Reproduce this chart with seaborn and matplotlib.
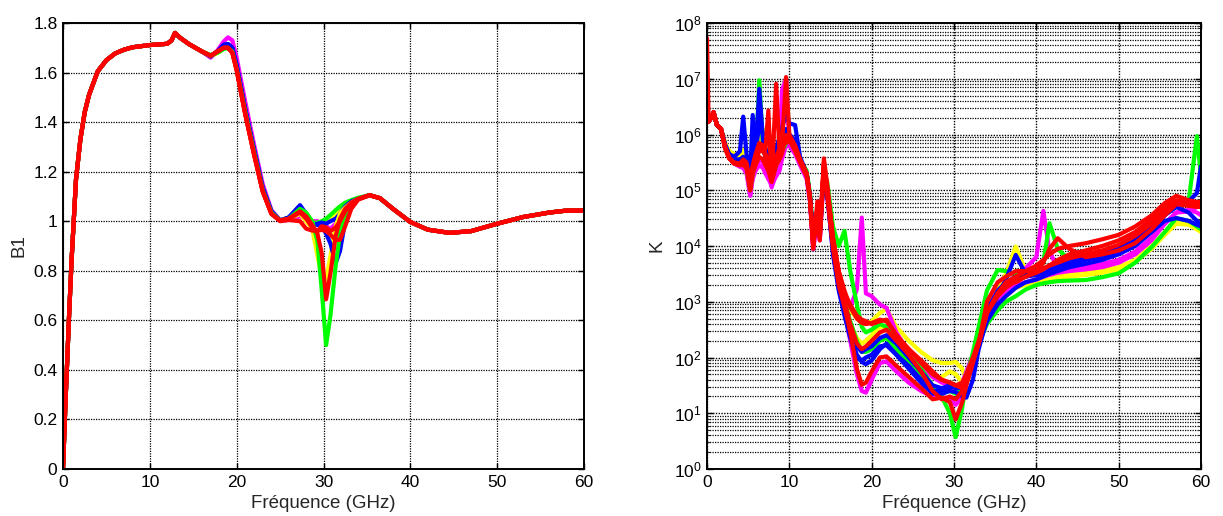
import numpy as np
import pandas as pd
import matplotlib
matplotlib.use("Agg")
import matplotlib.pyplot as plt
import seaborn as sns
from matplotlib.ticker import LogLocator, NullFormatter, FuncFormatter, MultipleLocator

# ---------------- data : left panel (B1) ----------------
freq_b1 = [0.0, 0.3, 0.7, 1.0, 1.5, 2.0, 2.5, 3.0, 4.0, 5.0,
           6.0, 7.0, 8.0, 10.0, 12.0, 12.5, 12.9, 13.5, 14.5, 16.0,
           17.0, 17.8, 18.5, 19.0, 19.5, 20.0, 21.0, 22.0, 23.0, 24.0,
           25.0, 26.0, 27.3, 28.0, 28.7, 29.3, 29.8, 30.3, 30.8, 31.4,
           31.9, 32.5, 33.2, 34.0,
           35.3, 36.5, 38.0, 40.0, 42.0, 44.5, 47.0, 50.0, 53.0, 56.0, 58.0, 60.0]

b1_start = [0.0, 0.28, 0.62, 0.85, 1.17, 1.33, 1.44, 1.51, 1.605, 1.65,
            1.677, 1.692, 1.702, 1.711, 1.716, 1.73, 1.76, 1.74, 1.715, 1.685]
b1_end = [1.105, 1.093, 1.05, 0.997, 0.966, 0.953, 0.96, 0.99, 1.017, 1.035, 1.043, 1.043]

b1_yellow_flat = [1.665, 1.68, 1.70, 1.705, 1.69, 1.62, 1.44, 1.28, 1.13, 1.035, 1.003, 1.01, 1.04, 1.02,
                  0.99, 0.99, 0.995, 1.0, 1.01, 1.03, 1.05, 1.07, 1.08, 1.09]
b1_magenta = [1.66, 1.69, 1.725, 1.742, 1.73, 1.66, 1.48, 1.31, 1.15, 1.045, 1.003, 1.005, 1.02, 1.01,
              1.0, 1.0, 0.99, 0.98, 0.97, 0.99, 1.02, 1.05, 1.075, 1.09]
b1_green_flat = [1.67, 1.68, 1.695, 1.70, 1.685, 1.615, 1.44, 1.28, 1.125, 1.035, 1.003, 1.015, 1.06, 1.01,
                 0.99, 0.995, 1.0, 1.01, 1.025, 1.045, 1.06, 1.075, 1.085, 1.095]
b1_blue_flat = [1.665, 1.685, 1.712, 1.715, 1.70, 1.63, 1.45, 1.29, 1.135, 1.04, 1.003, 1.015, 1.06, 1.02,
                0.985, 0.99, 0.995, 0.99, 1.0, 1.01, 1.03, 1.06, 1.08, 1.09]
b1_yellow_dip = [1.665, 1.68, 1.70, 1.705, 1.69, 1.62, 1.44, 1.28, 1.13, 1.035, 1.003, 1.01, 1.03, 1.0,
                 0.97, 0.86, 0.78, 0.765, 0.86, 0.98, 1.03, 1.055, 1.075, 1.09]
b1_blue_dip = [1.665, 1.685, 1.712, 1.715, 1.70, 1.63, 1.45, 1.29, 1.135, 1.04, 1.003, 1.015, 1.065, 1.03,
               0.99, 0.985, 0.98, 0.95, 0.91, 0.83, 0.88, 1.0, 1.06, 1.09]
b1_green_deep = [1.67, 1.68, 1.695, 1.70, 1.685, 1.615, 1.44, 1.28, 1.125, 1.035, 1.003, 1.01, 1.05, 1.035,
                 1.0, 0.92, 0.72, 0.50, 0.62, 0.82, 0.95, 1.03, 1.07, 1.09]
b1_red_mid = [1.668, 1.685, 1.70, 1.70, 1.68, 1.61, 1.43, 1.27, 1.12, 1.03, 1.003, 1.01, 1.035, 1.01,
              0.975, 0.96, 0.98, 0.975, 0.96, 0.975, 1.0, 1.04, 1.07, 1.09]
b1_red_low = [1.668, 1.685, 1.70, 1.70, 1.68, 1.61, 1.43, 1.27, 1.12, 1.03, 1.0, 1.005, 1.0, 0.97,
              0.962, 0.962, 0.965, 0.96, 0.945, 0.925, 0.925, 0.98, 1.05, 1.087]
b1_red_deep = [1.668, 1.685, 1.70, 1.70, 1.68, 1.61, 1.43, 1.27, 1.12, 1.03, 1.003, 1.01, 1.04, 1.02,
               0.985, 0.95, 0.87, 0.685, 0.79, 0.94, 1.01, 1.05, 1.075, 1.09]

b1_mid = {
    "yellow_flat": b1_yellow_flat, "magenta": b1_magenta, "green_flat": b1_green_flat,
    "blue_flat": b1_blue_flat, "yellow_dip": b1_yellow_dip, "blue_dip": b1_blue_dip,
    "green_deep": b1_green_deep, "red_mid": b1_red_mid, "red_low": b1_red_low, "red_deep": b1_red_deep,
}
b1_colors = {
    "yellow_flat": "y", "magenta": "m", "green_flat": "g", "blue_flat": "b", "yellow_dip": "y",
    "blue_dip": "b", "green_deep": "g", "red_mid": "r", "red_low": "r", "red_deep": "r",
}

# ---------------- data : right panel (K, stored as log10 K) ----------------
freq_k = [0.0, 0.2, 0.5, 0.8, 1.2, 1.7, 2.2, 2.7, 3.3, 4.0,
          4.4, 4.8, 5.25, 5.55, 5.9, 6.35, 6.8, 7.1, 7.45, 7.85,
          8.4, 8.8, 9.1, 9.6, 10.0, 10.7, 11.3, 12.1, 12.5, 12.9,
          13.4, 13.7, 14.2, 14.6, 15.3, 16.0, 16.7, 17.4, 18.2, 18.8,
          19.3, 20.0, 21.0, 21.8, 23.0, 24.5, 26.0, 27.4, 28.5, 29.5,
          30.2, 31.0, 31.5, 32.3, 33.0, 34.0, 35.3, 36.3, 37.5, 38.7,
          40.0, 40.85, 41.6, 42.6, 44.0, 46.0, 48.0, 50.0, 52.0, 54.0,
          55.6, 57.0, 58.5, 59.5, 60.0]

logk_yellow_b = [6.25, 6.23, 6.30, 6.40, 6.17, 6.10, 5.82, 5.65, 5.60, 5.62,
                 5.72, 5.55, 5.15, 5.55, 5.75, 5.90, 6.10, 5.80, 5.60, 5.30,
                 5.50, 5.65, 5.75, 5.95, 5.95, 5.80, 5.55, 5.30, 4.90, 4.10,
                 4.60, 4.25, 5.35, 5.00, 4.05, 3.40, 2.95, 2.60, 2.35, 2.25,
                 2.30, 2.40, 2.55, 2.55, 2.35, 2.10, 1.85, 1.65, 1.65, 1.75,
                 1.70, 1.55, 1.55, 1.85, 2.20, 2.70, 2.95, 3.10, 3.25, 3.30,
                 3.35, 3.38, 3.40, 3.43, 3.45, 3.48, 3.52, 3.58, 3.72, 3.95,
                 4.20, 4.40, 4.38, 4.30, 4.28]
logk_yellow_a = [6.25, 6.23, 6.30, 6.40, 6.17, 6.10, 5.85, 5.70, 5.65, 5.62,
                 5.70, 5.60, 5.25, 5.60, 5.80, 6.10, 6.00, 5.75, 5.55, 5.30,
                 5.60, 5.75, 5.80, 5.90, 5.90, 5.80, 5.55, 5.30, 4.90, 4.10,
                 4.60, 4.25, 5.30, 4.95, 4.00, 3.40, 3.10, 2.85, 2.70, 2.62,
                 2.60, 2.65, 2.80, 2.87, 2.55, 2.30, 2.10, 1.95, 1.90, 1.90,
                 1.92, 1.80, 1.60, 1.90, 2.25, 2.75, 3.20, 3.50, 3.99, 3.55,
                 3.45, 3.45, 3.48, 3.50, 3.52, 3.55, 3.58, 3.62, 3.75, 4.00,
                 4.25, 4.45, 4.40, 4.30, 4.25]
logk_magenta_b = [6.25, 6.23, 6.30, 6.40, 6.17, 6.10, 5.78, 5.58, 5.48, 5.42,
                  5.40, 5.30, 4.90, 5.20, 5.35, 5.45, 5.40, 5.30, 5.20, 5.10,
                  5.25, 5.35, 5.55, 5.80, 5.80, 5.65, 5.45, 5.20, 4.80, 3.94,
                  4.50, 4.10, 5.30, 4.90, 3.90, 3.25, 2.80, 2.30, 1.70, 1.40,
                  1.37, 1.60, 1.90, 1.93, 1.75, 1.55, 1.40, 1.30, 1.30, 1.25,
                  1.15, 1.30, 1.60, 2.00, 2.30, 2.80, 3.05, 3.20, 3.30, 3.35,
                  3.40, 3.45, 3.48, 3.52, 3.55, 3.58, 3.62, 3.70, 3.85, 4.10,
                  4.40, 4.60, 4.62, 4.70, 4.80]
logk_magenta_a = [6.25, 6.23, 6.30, 6.40, 6.17, 6.10, 5.78, 5.58, 5.50, 5.45,
                  5.45, 5.35, 4.92, 5.25, 5.40, 5.55, 5.50, 5.40, 5.30, 5.05,
                  5.30, 5.50, 6.79, 7.00, 5.80, 5.70, 5.50, 5.25, 4.85, 3.95,
                  4.55, 4.15, 5.35, 4.95, 4.00, 3.40, 3.05, 2.90, 3.22, 4.51,
                  3.15, 3.10, 2.95, 2.89, 2.45, 2.10, 1.85, 1.65, 1.55, 1.50,
                  1.40, 1.55, 1.75, 2.05, 2.30, 2.85, 3.15, 3.30, 3.40, 3.60,
                  3.80, 4.63, 3.90, 3.60, 3.58, 3.62, 3.68, 3.75, 3.90, 4.15,
                  4.40, 4.60, 4.65, 4.60, 4.55]
logk_green_b = [6.25, 6.23, 6.30, 6.40, 6.17, 6.10, 5.80, 5.60, 5.52, 5.50,
                5.55, 5.45, 5.05, 5.35, 5.50, 5.75, 5.80, 5.60, 5.40, 5.20,
                5.45, 5.60, 5.75, 6.00, 5.95, 5.80, 5.55, 5.30, 4.90, 4.10,
                4.60, 4.20, 5.45, 5.00, 4.10, 3.40, 3.00, 2.65, 2.30, 2.10,
                2.10, 2.15, 2.30, 2.35, 2.15, 1.90, 1.65, 1.40, 1.35, 1.40,
                1.35, 1.50, 1.70, 2.00, 2.25, 2.60, 2.85, 3.00, 3.10, 3.22,
                3.30, 3.33, 3.35, 3.37, 3.38, 3.39, 3.44, 3.51, 3.70, 3.98,
                4.25, 4.50, 4.45, 4.35, 4.30]
logk_green_a = [6.25, 6.23, 6.30, 6.40, 6.17, 6.10, 5.80, 5.60, 5.50, 5.45,
                5.50, 5.40, 5.00, 5.30, 5.50, 6.97, 5.80, 5.60, 5.45, 5.20,
                5.50, 5.60, 5.70, 5.85, 5.90, 5.80, 5.55, 5.35, 4.95, 4.20,
                4.65, 4.30, 5.30, 5.15, 4.35, 4.00, 4.27, 3.55, 2.95, 2.55,
                2.45, 2.50, 2.60, 2.55, 2.30, 2.05, 1.80, 1.50, 1.30, 1.00,
                0.57, 1.10, 1.60, 2.10, 2.55, 3.20, 3.57, 3.55, 3.50, 3.48,
                3.50, 3.70, 4.41, 3.95, 3.75, 3.78, 3.85, 3.95, 4.10, 4.35,
                4.60, 4.75, 4.80, 5.97, 5.25]
logk_blue_c = [6.25, 6.23, 6.30, 6.40, 6.17, 6.10, 5.80, 5.62, 5.55, 5.55,
               5.58, 5.50, 5.05, 5.40, 5.60, 5.80, 5.75, 5.60, 5.45, 5.20,
               5.50, 5.65, 5.80, 6.05, 6.00, 5.90, 5.55, 5.30, 4.90, 4.10,
               4.60, 4.25, 5.40, 5.00, 4.00, 3.35, 2.95, 2.55, 2.20, 2.10,
               2.15, 2.20, 2.35, 2.40, 2.25, 2.00, 1.75, 1.50, 1.45, 1.50,
               1.45, 1.45, 1.55, 1.85, 2.20, 2.85, 3.20, 3.35, 3.45, 3.45,
               3.48, 3.52, 3.56, 3.62, 3.68, 3.75, 3.82, 3.90, 4.05, 4.30,
               4.55, 4.70, 4.60, 4.45, 4.40]
logk_blue_b = [6.25, 6.23, 6.30, 6.40, 6.17, 6.10, 5.80, 5.63, 5.55, 5.55,
               5.60, 5.55, 5.10, 5.45, 5.65, 6.20, 6.00, 5.70, 5.45, 5.20,
               5.55, 5.70, 5.85, 6.10, 6.00, 5.85, 5.55, 5.28, 4.88, 4.05,
               4.55, 4.20, 5.30, 4.95, 3.85, 3.20, 2.75, 2.35, 1.98, 1.95,
               2.00, 2.05, 2.20, 2.22, 2.05, 1.85, 1.60, 1.40, 1.40, 1.45,
               1.50, 1.50, 1.60, 1.90, 2.20, 2.65, 2.95, 3.10, 3.25, 3.35,
               3.40, 3.45, 3.50, 3.55, 3.62, 3.68, 3.75, 3.85, 4.00, 4.25,
               4.45, 4.50, 4.45, 4.38, 4.35]
logk_blue_a = [6.25, 6.23, 6.30, 6.40, 6.17, 6.10, 5.82, 5.65, 5.60, 5.70,
               6.32, 5.65, 5.30, 6.35, 5.60, 6.82, 5.90, 5.75, 5.60, 5.35,
               5.75, 5.95, 6.10, 6.38, 6.20, 6.17, 5.60, 5.30, 4.90, 4.15,
               4.65, 4.30, 5.35, 5.00, 3.95, 3.30, 2.85, 2.40, 2.05, 1.92,
               1.88, 1.95, 2.15, 2.25, 2.05, 1.80, 1.55, 1.35, 1.35, 1.40,
               1.38, 1.30, 1.28, 1.60, 2.15, 2.70, 3.10, 3.40, 3.84, 3.50,
               3.48, 3.55, 3.62, 3.68, 3.75, 3.80, 3.85, 3.95, 4.10, 4.35,
               4.60, 4.75, 4.80, 4.95, 5.43]
logk_red_c = [6.25, 6.23, 6.30, 6.40, 6.17, 6.10, 5.77, 5.58, 5.50, 5.48,
              5.55, 5.50, 5.10, 5.45, 5.65, 5.85, 5.80, 5.65, 5.55, 5.30,
              5.60, 5.75, 5.85, 5.85, 5.90, 5.75, 5.55, 5.30, 4.88, 4.00,
              4.70, 4.20, 5.50, 5.05, 4.10, 3.45, 3.00, 2.60, 2.25, 2.15,
              2.20, 2.30, 2.45, 2.50, 2.30, 2.05, 1.75, 1.40, 1.25, 1.30,
              1.25, 1.40, 1.60, 1.95, 2.25, 3.00, 3.35, 3.45, 3.55, 3.55,
              3.55, 3.60, 3.65, 3.70, 3.78, 3.85, 3.92, 4.02, 4.18, 4.40,
              4.65, 4.80, 4.75, 4.72, 4.72]
logk_red_d = [6.25, 6.23, 6.30, 6.40, 6.17, 6.10, 5.78, 5.58, 5.48, 5.45,
              5.50, 5.45, 5.00, 5.35, 5.60, 5.80, 5.75, 5.60, 5.45, 5.20,
              5.50, 5.70, 5.80, 5.95, 5.95, 5.80, 5.55, 5.30, 4.88, 4.00,
              4.65, 4.15, 5.45, 5.05, 4.15, 3.55, 3.20, 2.90, 2.70, 2.62,
              2.60, 2.62, 2.68, 2.65, 2.40, 2.15, 1.95, 1.75, 1.60, 1.55,
              1.50, 1.45, 1.60, 1.95, 2.25, 2.80, 3.10, 3.25, 3.38, 3.45,
              3.52, 3.58, 3.65, 3.75, 3.85, 3.92, 4.00, 4.10, 4.25, 4.48,
              4.70, 4.82, 4.78, 4.75, 4.75]
logk_red_b = [6.25, 6.23, 6.30, 6.40, 6.17, 6.10, 5.75, 5.57, 5.48, 5.45,
              5.45, 5.40, 5.00, 5.30, 5.45, 5.60, 5.55, 5.45, 5.35, 5.15,
              5.45, 5.55, 5.65, 5.99, 5.90, 5.70, 5.50, 5.25, 4.85, 3.95,
              4.80, 4.10, 5.50, 4.90, 3.95, 3.30, 2.90, 2.45, 1.80, 1.51,
              1.55, 1.75, 2.00, 2.02, 1.85, 1.65, 1.45, 1.25, 1.28, 1.20,
              0.89, 1.20, 1.50, 1.90, 2.25, 2.80, 3.15, 3.30, 3.35, 3.45,
              3.55, 3.70, 3.95, 4.14, 3.95, 3.80, 3.85, 3.92, 4.05, 4.30,
              4.55, 4.75, 4.72, 4.70, 4.70]
logk_red_a = [7.73, 6.23, 6.30, 6.40, 6.17, 6.11, 5.75, 5.57, 5.48, 5.45,
              5.50, 5.45, 5.10, 5.40, 5.55, 5.70, 5.70, 5.75, 6.43, 5.15,
              6.91, 5.70, 5.80, 7.03, 6.00, 5.80, 5.55, 5.30, 4.88, 4.05,
              4.65, 4.25, 5.57, 5.10, 4.15, 3.55, 3.15, 2.95, 2.75, 2.68,
              2.65, 2.60, 2.65, 2.68, 2.40, 2.15, 1.90, 1.70, 1.60, 1.55,
              1.50, 1.55, 1.70, 2.00, 2.30, 2.80, 3.15, 3.35, 3.45, 3.55,
              3.65, 3.75, 3.85, 3.95, 4.00, 4.05, 4.12, 4.20, 4.35, 4.55,
              4.77, 4.90, 4.82, 4.79, 4.79]

k_curves = {
    "yellow_b": logk_yellow_b, "yellow_a": logk_yellow_a, "magenta_b": logk_magenta_b,
    "magenta_a": logk_magenta_a, "green_b": logk_green_b, "green_a": logk_green_a,
    "blue_c": logk_blue_c, "blue_b": logk_blue_b, "blue_a": logk_blue_a,
    "red_c": logk_red_c, "red_d": logk_red_d, "red_b": logk_red_b, "red_a": logk_red_a,
}
k_colors = {name: name.split("_")[0][0] for name in k_curves}

matlab_rgb = {"b": (0, 0, 1), "g": (0, 1, 0), "y": (1, 1, 0), "m": (1, 0, 1), "r": (1, 0, 0)}

# ---------------- build long tables ----------------
rows = []
for name, mid in b1_mid.items():
    vals = b1_start + mid + b1_end
    rows.append(pd.DataFrame({"f": freq_b1, "v": vals, "curve": name}))
df_b1 = pd.concat(rows, ignore_index=True)

rows = []
for name, lv in k_curves.items():
    rows.append(pd.DataFrame({"f": freq_k, "v": 10.0 ** np.asarray(lv), "curve": name}))
df_k = pd.concat(rows, ignore_index=True)

# ---------------- style ----------------
sns.set_style("ticks")
plt.rcParams["font.family"] = ["Liberation Sans", "DejaVu Sans"]
plt.rcParams["mathtext.default"] = "regular"

fig = plt.figure(figsize=(12.23, 5.16), dpi=100)
W, H = 1223.0, 516.0
ax1 = fig.add_axes([63 / W, 47 / H, 521 / W, 446 / H])
ax2 = fig.add_axes([707 / W, 47 / H, 494 / W, 446 / H])

LW = 3.0
sns.lineplot(data=df_b1, x="f", y="v", hue="curve", hue_order=list(b1_mid.keys()),
             palette={k: matlab_rgb[c] for k, c in b1_colors.items()},
             estimator=None, sort=False, linewidth=LW, legend=False, ax=ax1,
             solid_joinstyle="round", solid_capstyle="round")
sns.lineplot(data=df_k, x="f", y="v", hue="curve", hue_order=list(k_curves.keys()),
             palette={k: matlab_rgb[c] for k, c in k_colors.items()},
             estimator=None, sort=False, linewidth=LW, legend=False, ax=ax2,
             solid_joinstyle="round", solid_capstyle="round")

DOT = (0, (1, 1))

# left axes
ax1.set_xlim(0, 60)
ax1.set_ylim(0, 1.8)
ax1.xaxis.set_major_locator(MultipleLocator(10))
ax1.set_yticks(np.arange(0, 1.81, 0.2))
ax1.yaxis.set_major_formatter(FuncFormatter(lambda v, p: f"{v:g}"))
ax1.grid(True, which="major", linestyle=DOT, color="k", linewidth=0.9)
ax1.set_xlabel("Fréquence (GHz)", fontsize=13.5, labelpad=4)
ax1.set_ylabel("B1", fontsize=13.5, labelpad=4)

# right axes
ax2.set_yscale("log")
ax2.set_xlim(0, 60)
ax2.set_ylim(1, 1e8)
ax2.xaxis.set_major_locator(MultipleLocator(10))
ax2.yaxis.set_major_locator(LogLocator(base=10, numticks=20))
ax2.yaxis.set_minor_locator(LogLocator(base=10, subs=np.arange(2, 10), numticks=100))
ax2.yaxis.set_minor_formatter(NullFormatter())
ax2.grid(True, which="major", linestyle=DOT, color="k", linewidth=1.0)
ax2.grid(True, which="minor", axis="y", linestyle=DOT, color="k", linewidth=0.9)
ax2.set_xlabel("Fréquence (GHz)", fontsize=13.5, labelpad=4)
ax2.set_ylabel("K", fontsize=13.5, labelpad=6)

for ax in (ax1, ax2):
    ax.set_facecolor("white")
    for s in ax.spines.values():
        s.set_color("black")
        s.set_linewidth(1.4)
        s.set_visible(True)
    ax.tick_params(which="major", direction="in", length=4, width=1, top=True, right=True,
                   labelsize=12.5, colors="black", pad=4)
    ax.tick_params(which="minor", direction="in", length=2, width=0.8, top=False, right=True,
                   left=True)

fig.savefig("out.png", dpi=100, facecolor="white")
